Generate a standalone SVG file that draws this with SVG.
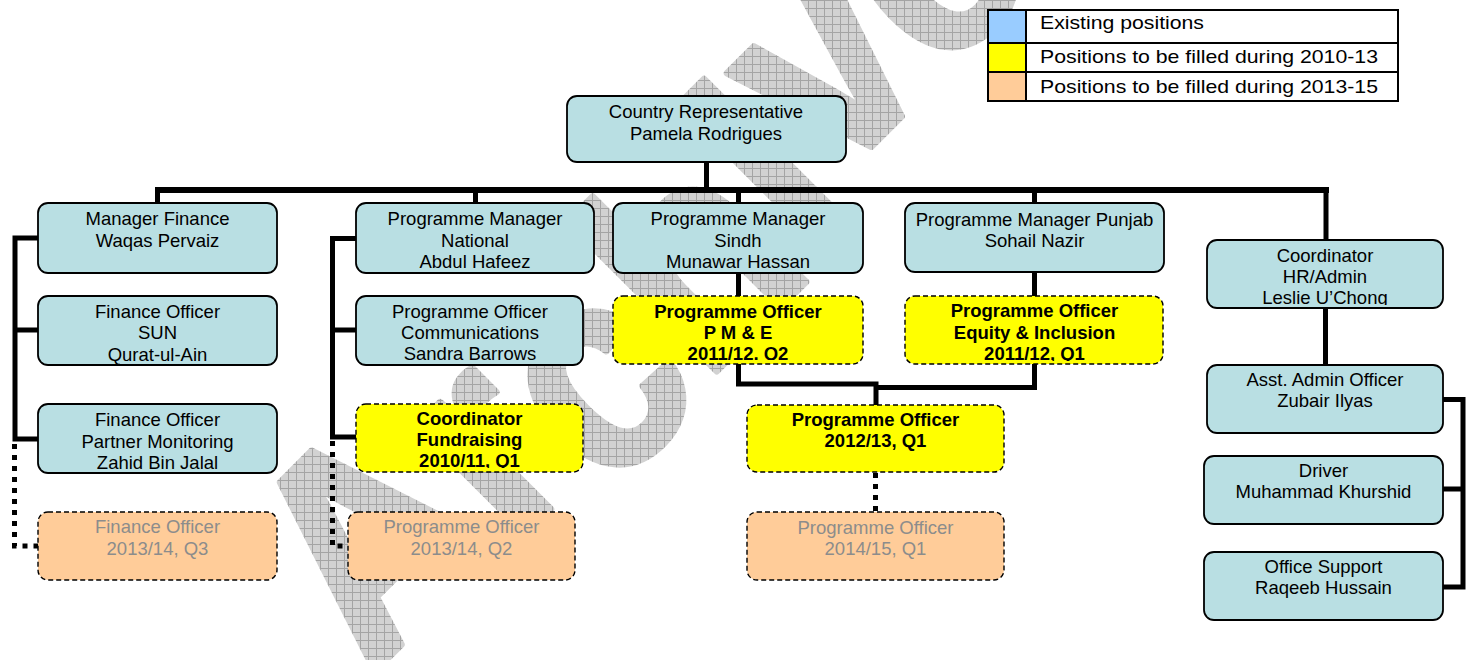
<svg xmlns="http://www.w3.org/2000/svg" width="1470" height="660" viewBox="0 0 1470 660">
<style>
.box{fill:#b9dfe3;stroke:#000;stroke-width:1.8}
.yel{fill:#ffff00;stroke:#000;stroke-width:1.4;stroke-dasharray:5 3}
.pch{fill:#ffcc99;stroke:#000;stroke-width:1.4;stroke-dasharray:5 3}
text{font-family:"Liberation Sans",Arial,sans-serif;font-size:18.5px;fill:#000}
.t{text-anchor:middle}
.b{font-weight:bold}
.g{fill:#8c8c8c}
.ln{fill:none;stroke:#000;stroke-width:5}
.bus{fill:none;stroke:#000;stroke-width:6}
.dot{fill:none;stroke:#000;stroke-width:5;stroke-dasharray:5 6}
.lg{font-size:18.6px}
</style>
<defs>
<pattern id="grid" width="8" height="8" patternUnits="userSpaceOnUse">
<rect width="8" height="8" fill="#d2d2d2"/>
<path d="M0 0.5H8M0.5 0V8" stroke="#a4a4a4" stroke-width="1"/>
</pattern>
<mask id="wm" maskUnits="userSpaceOnUse" x="0" y="0" width="1470" height="660">
<text transform="translate(356,662) rotate(-45) scale(1,1.1)" y="18 27 55 45 41 0 0 0" style="font-family:'Liberation Sans',Arial,sans-serif;font-weight:bold;font-size:265px;fill:#fff;stroke:#fff;stroke-width:6;stroke-linejoin:round">Archived</text>
</mask>
<clipPath id="c16"><rect x="1207" y="240" width="236" height="65"/></clipPath>
<clipPath id="c8"><rect x="356" y="404" width="227" height="64"/></clipPath>
<clipPath id="c11"><rect x="613" y="296" width="250" height="64"/></clipPath>
<clipPath id="c15"><rect x="905" y="296" width="258" height="65"/></clipPath>
</defs>
<rect width="1470" height="660" fill="#fff"/>
<rect id="watermark" width="1470" height="660" fill="url(#grid)" mask="url(#wm)"/>

<g id="connectors">
<path class="ln" d="M706.5 162V190"/>
<path class="bus" d="M155 190H1329"/>
<path class="ln" d="M157.5 190V203M475.5 190V203M738.5 190V204M1034.5 190V203M1326 190V240"/>
<path class="ln" d="M38 238H15V439H38M15 330H38"/>
<path class="dot" d="M14.5 444V546H38"/>
<path class="ln" d="M356 238.5H332.5V437H356M332.5 330H356"/>
<path class="dot" d="M332.5 441V546H348"/>
<path class="ln" d="M738.5 273V296M1034.5 272V296"/>
<path class="ln" d="M738.5 364V384H876V405M1034.5 364V387.5H876"/>
<path class="dot" d="M875.5 473V512"/>
<path class="ln" d="M1325.5 308V365"/>
<path class="ln" d="M1443 399.5H1463V587H1443M1443 489H1463"/>
</g>

<g id="legend">
<rect x="988" y="10" width="410" height="91" fill="#fff" stroke="#000" stroke-width="2"/>
<rect x="988" y="10" width="38" height="33" fill="#99ccff"/>
<rect x="988" y="43" width="38" height="29" fill="#ffff00"/>
<rect x="988" y="72" width="38" height="29" fill="#ffcc99"/>
<path d="M1026 10V101M988 43H1398M988 72H1398" stroke="#000" stroke-width="2" fill="none"/>
<rect x="988" y="10" width="410" height="91" fill="none" stroke="#000" stroke-width="2"/>
<text class="lg" x="1040" y="29" textLength="164" lengthAdjust="spacingAndGlyphs">Existing positions</text>
<text class="lg" x="1040" y="63" textLength="338" lengthAdjust="spacingAndGlyphs">Positions to be filled during 2010-13</text>
<text class="lg" x="1040" y="93" textLength="338" lengthAdjust="spacingAndGlyphs">Positions to be filled during 2013-15</text>
</g>

<g id="n1"><rect class="box" x="567" y="96" width="279" height="66" rx="10"/>
<text class="t" x="706" y="118">Country Representative</text><text class="t" x="706" y="139.5">Pamela Rodrigues</text></g>

<g id="n2"><rect class="box" x="38" y="203" width="239" height="70" rx="10"/>
<text class="t" x="157.5" y="225">Manager Finance</text><text class="t" x="157.5" y="246.5">Waqas Pervaiz</text></g>

<g id="n3"><rect class="box" x="38" y="296" width="239" height="69" rx="10"/>
<text class="t" x="157.5" y="317.5">Finance Officer</text><text class="t" x="157.5" y="339">SUN</text><text class="t" x="157.5" y="360.5">Qurat-ul-Ain</text></g>

<g id="n4"><rect class="box" x="38" y="404" width="239" height="69" rx="10"/>
<text class="t" x="157.5" y="426">Finance Officer</text><text class="t" x="157.5" y="447.5">Partner Monitoring</text><text class="t" x="157.5" y="468.5">Zahid Bin Jalal</text></g>

<g id="n5"><rect class="pch" x="38" y="512" width="239" height="68" rx="10"/>
<text class="t g" x="157.5" y="533">Finance Officer</text><text class="t g" x="157.5" y="554.5">2013/14, Q3</text></g>

<g id="n6"><rect class="box" x="356" y="203" width="238" height="70" rx="10"/>
<text class="t" x="475" y="225">Programme Manager</text><text class="t" x="475" y="246.5">National</text><text class="t" x="475" y="268">Abdul Hafeez</text></g>

<g id="n7"><rect class="box" x="356" y="296" width="227" height="69" rx="10"/>
<text class="t" x="470" y="317.5">Programme Officer</text><text class="t" x="470" y="338.5">Communications</text><text class="t" x="470" y="360">Sandra Barrows</text></g>

<g id="n8"><rect class="yel" x="356" y="404" width="227" height="68" rx="10"/>
<g clip-path="url(#c8)"><text class="t b" x="469.5" y="424.5">Coordinator</text><text class="t b" x="469.5" y="445.5">Fundraising</text><text class="t b" x="469.5" y="466.5">2010/11, Q1</text></g></g>

<g id="n9"><rect class="pch" x="348" y="512" width="227" height="68" rx="10"/>
<text class="t g" x="461.5" y="533">Programme Officer</text><text class="t g" x="461.5" y="554.5">2013/14, Q2</text></g>

<g id="n10"><rect class="box" x="613" y="203" width="250" height="70" rx="10"/>
<text class="t" x="738" y="225">Programme Manager</text><text class="t" x="738" y="246.5">Sindh</text><text class="t" x="738" y="268">Munawar Hassan</text></g>

<g id="n11"><rect class="yel" x="613" y="296" width="250" height="68" rx="10"/>
<g clip-path="url(#c11)"><text class="t b" x="738" y="317.5">Programme Officer</text><text class="t b" x="738" y="338.5">P M &amp; E</text><text class="t b" x="738" y="359.5">2011/12, Q2</text></g></g>

<g id="n12"><rect class="yel" x="747" y="405" width="257" height="67" rx="10"/>
<text class="t b" x="875.5" y="425.5">Programme Officer</text><text class="t b" x="875.5" y="446.5">2012/13, Q1</text></g>

<g id="n13"><rect class="pch" x="747" y="512" width="257" height="68" rx="10"/>
<text class="t g" x="875.5" y="533.5">Programme Officer</text><text class="t g" x="875.5" y="555">2014/15, Q1</text></g>

<g id="n14"><rect class="box" x="905" y="203" width="259" height="69" rx="10"/>
<text class="t" x="1034.5" y="226">Programme Manager Punjab</text><text class="t" x="1034.5" y="246.7">Sohail Nazir</text></g>

<g id="n15"><rect class="yel" x="905" y="296" width="258" height="68" rx="10"/>
<g clip-path="url(#c15)"><text class="t b" x="1034.5" y="317">Programme Officer</text><text class="t b" x="1034.5" y="338.5">Equity &amp; Inclusion</text><text class="t b" x="1034.5" y="359.5">2011/12, Q1</text></g></g>

<g id="n16"><rect class="box" x="1207" y="240" width="236" height="68" rx="10"/>
<g clip-path="url(#c16)"><text class="t" x="1325" y="261.5">Coordinator</text><text class="t" x="1325" y="283">HR/Admin</text><text class="t" x="1325" y="304">Leslie U’Chong</text></g></g>

<g id="n17"><rect class="box" x="1207" y="365" width="236" height="68" rx="10"/>
<text class="t" x="1325" y="386">Asst. Admin Officer</text><text class="t" x="1325" y="406.7">Zubair Ilyas</text></g>

<g id="n18"><rect class="box" x="1204" y="456" width="239" height="68" rx="10"/>
<text class="t" x="1323.5" y="476.7">Driver</text><text class="t" x="1323.5" y="498.3">Muhammad Khurshid</text></g>

<g id="n19"><rect class="box" x="1204" y="552" width="239" height="68" rx="10"/>
<text class="t" x="1323.5" y="573.3">Office Support</text><text class="t" x="1323.5" y="594.3">Raqeeb Hussain</text></g>
</svg>
